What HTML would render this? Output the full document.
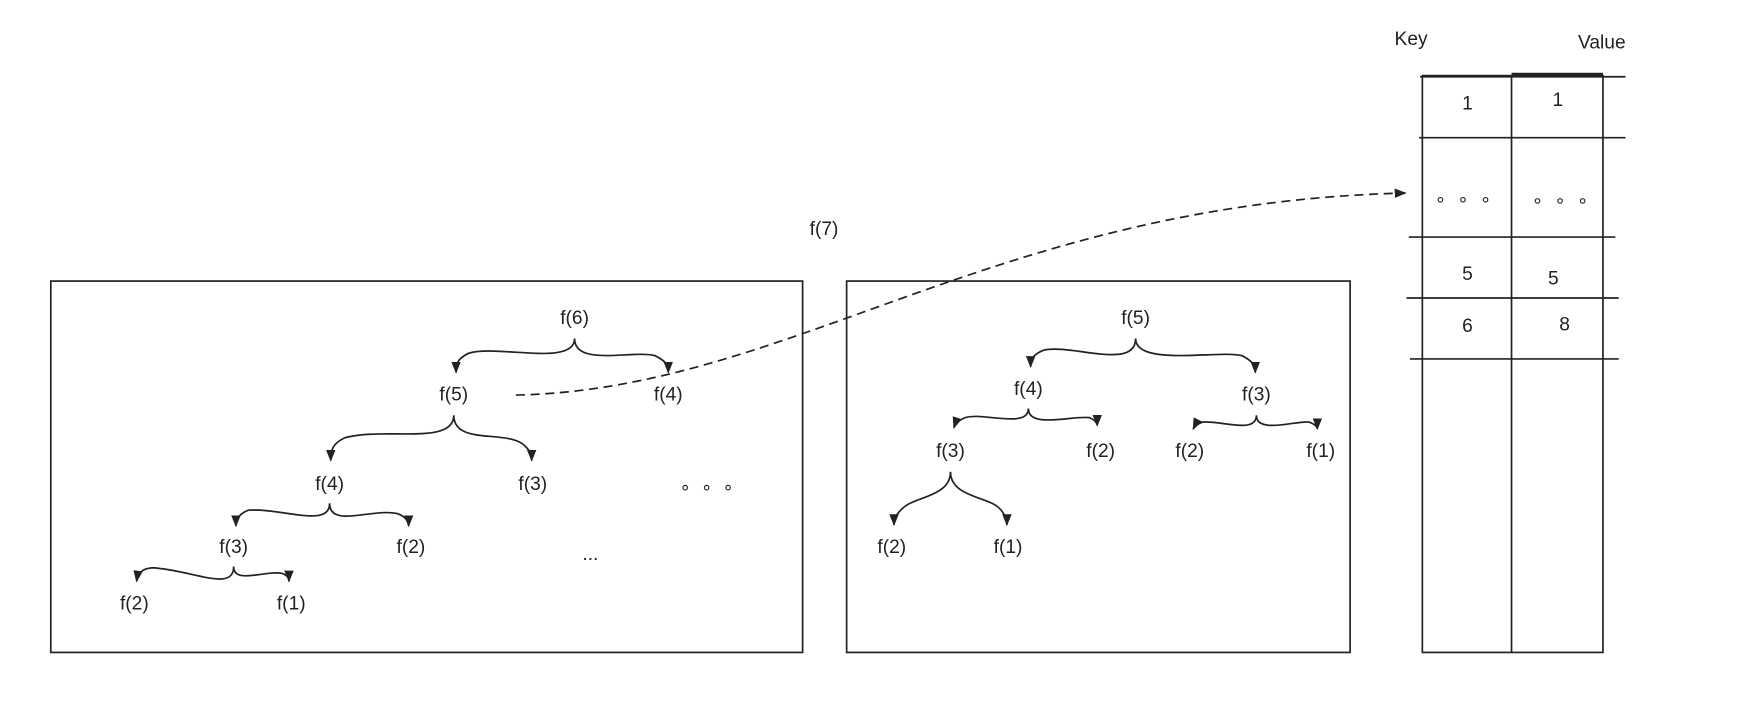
<!DOCTYPE html>
<html><head><meta charset="utf-8"><style>
html,body{margin:0;padding:0;background:#fff;}
svg{display:block;}
text{font-family:"Liberation Sans",sans-serif;font-size:17px;fill:#222;text-anchor:middle;}
</style></head><body>
<svg width="1761" height="710" viewBox="0 0 1560 629" preserveAspectRatio="none">
<defs>
<marker id="a" viewBox="0 0 10 10" refX="9" refY="5" markerWidth="7" markerHeight="7" orient="auto-start-reverse"><path d="M0,1 L10,5 L0,9 z" fill="#222"/></marker>
</defs>
<g fill="none" stroke="#222" stroke-width="1.5">
<rect x="45" y="249" width="666" height="329"/>
<rect x="750" y="249" width="446" height="329"/>
<rect x="1260" y="67" width="160" height="511"/>
<line x1="1339" y1="67" x2="1339" y2="578"/>
<line x1="1339" y1="66" x2="1420" y2="66" stroke-width="3"/>
<line x1="1258" y1="68" x2="1440" y2="68"/>
<line x1="1257" y1="122" x2="1440" y2="122"/>
<line x1="1248" y1="210" x2="1431" y2="210"/>
<line x1="1246" y1="264" x2="1434" y2="264"/>
<line x1="1249" y1="318" x2="1434" y2="318"/>
<path d="M457,350 C700,345 880,180 1245,171" stroke-dasharray="8,5" marker-end="url(#a)"/>
<!-- left tree -->
<g marker-end="url(#a)">
<path d="M509,300 C509,325 440,305 415,313 C405,318 404,322 404,330"/>
<path d="M509,300 C509,325 560,310 580,315 C590,320 592,323 592,330"/>
<path d="M402,368 C402,395 340,378 305,388 C295,393 293,398 293,408"/>
<path d="M402,368 C402,395 450,380 465,395 C470,400 471,403 471,408"/>
<path d="M292,446 C292,468 250,450 220,452 C212,455 209,460 209,466"/>
<path d="M292,446 C292,468 330,450 352,455 C360,458 362,462 362,466"/>
<path d="M207,502 C207,525 170,505 135,503 C125,504 122,508 121,515"/>
<path d="M207,502 C207,518 235,505 250,508 C255,510 256,512 256,515"/>
<!-- middle tree -->
<path d="M1006,300 C1006,328 950,305 925,310 C915,314 913,318 913,325"/>
<path d="M1006,300 C1006,325 1080,310 1100,315 C1110,320 1112,324 1112,330"/>
<path d="M911,362 C911,380 870,365 855,370 C848,373 846,376 845,379"/>
<path d="M911,362 C911,380 950,368 965,370 C970,372 972,375 972,377"/>
<path d="M1113,368 C1113,385 1080,372 1065,374 C1060,376 1058,378 1057,380"/>
<path d="M1113,368 C1113,385 1150,372 1160,374 C1165,376 1167,378 1167,380"/>
<path d="M842,418 C842,440 810,440 800,450 C794,455 792,460 792,465"/>
<path d="M842,418 C842,440 875,440 885,450 C890,455 892,460 892,465"/>
</g>
</g>
<g fill="none" stroke="#222" stroke-width="1">
<circle cx="607" cy="432" r="2"/><circle cx="626" cy="432" r="2"/><circle cx="645" cy="432" r="2"/>
<circle cx="1276" cy="177" r="2"/><circle cx="1296" cy="177" r="2"/><circle cx="1316" cy="177" r="2"/>
<circle cx="1362" cy="178" r="2"/><circle cx="1382" cy="178" r="2"/><circle cx="1402" cy="178" r="2"/>
</g>
<text x="509" y="287">f(6)</text>
<text x="402" y="355">f(5)</text>
<text x="592" y="355">f(4)</text>
<text x="292" y="434">f(4)</text>
<text x="472" y="434">f(3)</text>
<text x="207" y="490">f(3)</text>
<text x="364" y="490">f(2)</text>
<text x="523" y="496">...</text>
<text x="119" y="540">f(2)</text>
<text x="258" y="540">f(1)</text>
<text x="730" y="208">f(7)</text>
<text x="1006" y="287">f(5)</text>
<text x="911" y="350">f(4)</text>
<text x="1113" y="355">f(3)</text>
<text x="842" y="405">f(3)</text>
<text x="975" y="405">f(2)</text>
<text x="1054" y="405">f(2)</text>
<text x="1170" y="405">f(1)</text>
<text x="790" y="490">f(2)</text>
<text x="893" y="490">f(1)</text>
<text x="1250" y="40">Key</text>
<text x="1419" y="43">Value</text>
<text x="1300" y="97">1</text>
<text x="1380" y="94">1</text>
<text x="1300" y="248">5</text>
<text x="1376" y="252">5</text>
<text x="1300" y="294">6</text>
<text x="1386" y="293">8</text>
</svg>
</body></html>
